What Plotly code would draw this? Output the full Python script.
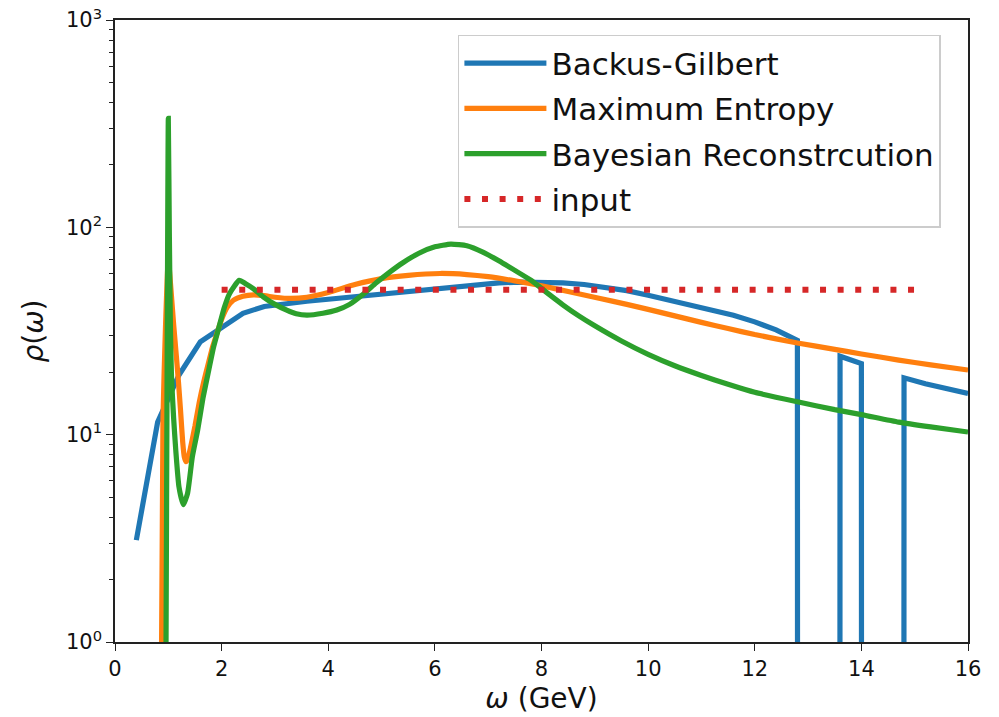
import numpy as np
import plotly.graph_objects as go

# ---------------- data ----------------
bg_x = [0.4, 0.8, 1.2, 1.6, 2.0, 2.4, 2.8, 3.2, 3.6, 4.0, 4.4, 4.8, 5.2, 5.6, 6.0,
        6.4, 6.8, 7.2, 7.6, 8.0, 8.4, 8.8, 9.2, 9.6, 10.0, 10.4, 10.8, 11.2, 11.6,
        12.0, 12.4, 12.8, 13.2, 13.6, 14.0, 14.4, 14.8, 15.2, 15.6, 16.0]
bg_y = [3.1, 11.5, 19.4, 28.0, 32.8, 38.5, 41.5, 43.0, 44.0, 45.0, 46.0, 47.3, 48.5,
        49.5, 50.5, 51.8, 53.0, 54.0, 54.4, 54.3, 54.0, 53.0, 51.5, 49.5, 47.0, 44.5,
        42.3, 40.0, 37.7, 35.0, 32.0, 28.5, -5.0, 23.9, 22.0, -3.0, 18.8, 17.6, 16.6, 15.8]

me_x = [0.87, 0.9, 0.95, 1.0, 1.05, 1.1, 1.15, 1.19, 1.23, 1.27, 1.3, 1.33, 1.37, 1.41,
        1.5, 1.58, 1.66, 1.75, 1.83, 1.91, 2.0, 2.1, 2.22, 2.4, 2.6, 2.8, 3.0, 3.3, 3.6,
        4.0, 4.5, 5.0, 5.5, 6.1, 6.6, 7.0, 7.5, 8.0, 8.5, 9.1, 9.6, 10.0, 10.5, 11.0,
        11.5, 12.0, 12.8, 13.5, 14.0, 14.7, 15.3, 16.0]
me_y = [0.7, 12.0, 35.0, 70.0, 50.0, 34.0, 24.0, 18.0, 13.0, 9.2, 7.8, 7.4, 7.7, 8.5,
        11.0, 14.3, 17.8, 22.0, 26.5, 30.7, 36.0, 41.0, 44.5, 46.5, 47.2, 46.8, 46.0,
        45.4, 46.0, 48.5, 53.0, 56.6, 58.7, 59.9, 59.2, 57.8, 55.2, 52.3, 49.0, 45.4,
        42.5, 40.2, 37.4, 34.8, 32.5, 30.4, 27.7, 25.8, 24.5, 22.9, 21.7, 20.5]

br_x = [0.955, 0.98, 1.0, 1.02, 1.04, 1.06, 1.1, 1.14, 1.2, 1.28, 1.36, 1.45, 1.55,
        1.65, 1.75, 1.85, 1.95, 2.05, 2.15, 2.33, 2.45, 2.6, 2.78, 3.0, 3.22, 3.4, 3.6,
        3.9, 4.16, 4.4, 4.66, 4.9, 5.16, 5.4, 5.7, 6.0, 6.3, 6.6, 6.9, 7.2, 7.5, 7.8,
        8.1, 8.4, 8.7, 9.0, 9.5, 10.0, 10.5, 11.0, 11.5, 12.0, 12.8, 13.5, 14.0, 14.7,
        15.3, 16.0]
br_y = [0.7, 30.0, 335.0, 90.0, 32.0, 19.0, 12.0, 8.4, 5.6, 4.6, 5.2, 7.8, 10.5, 15.0,
        20.0, 26.5, 33.0, 41.0, 48.0, 55.5, 53.5, 50.5, 46.2, 42.5, 39.9, 38.3, 37.7,
        38.5, 39.9, 42.5, 47.7, 54.0, 61.0, 67.5, 75.0, 80.5, 83.0, 81.5, 76.0, 69.0,
        62.0, 55.6, 48.4, 42.3, 37.4, 33.5, 28.3, 24.4, 21.5, 19.3, 17.5, 16.0, 14.4,
        13.2, 12.5, 11.5, 10.9, 10.3]

in_x = [2.0, 15.0]
in_y = [50.0, 50.0]

y_tick_vals = [1, 10, 100, 1000]
y_tick_text = ["10<sup>0</sup>", "10<sup>1</sup>", "10<sup>2</sup>", "10<sup>3</sup>"]
x_tick_vals = [0, 2, 4, 6, 8, 10, 12, 14, 16]

# log axis: clip non-positive values far below the axis (like matplotlib's clip)
def clip_log(v):
    a = np.asarray(v, dtype=float)
    return np.where(a > 0, a, 1e-300)

minor_vals = [m * 10 ** e for e in range(0, 3) for m in range(2, 10)]

BLUE, ORANGE, GREEN, RED = "#1f77b4", "#ff7f0e", "#2ca02c", "#d62728"
LW = 5.2

fig = go.Figure()
fig.add_trace(go.Scatter(x=bg_x, y=clip_log(bg_y), mode="lines", name="Backus-Gilbert",
                         line=dict(color=BLUE, width=LW), legendgroup="a"))
fig.add_trace(go.Scatter(x=me_x, y=clip_log(me_y), mode="lines", name="Maximum Entropy",
                         line=dict(color=ORANGE, width=LW, shape="spline", smoothing=0.5),
                         legendgroup="b"))
fig.add_trace(go.Scatter(x=br_x, y=clip_log(br_y), mode="lines", name="Bayesian Reconstrcution",
                         line=dict(color=GREEN, width=LW, shape="spline", smoothing=0.5),
                         legendgroup="c"))
fig.add_trace(go.Scatter(x=in_x, y=in_y, mode="lines", name="input",
                         line=dict(color=RED, width=6, dash="6px,11.6px"),
                         legendgroup="d"))

axis_common = dict(showline=True, linecolor="#222", linewidth=1.6, mirror=True,
                   ticks="outside", ticklen=7, tickwidth=1.4, tickcolor="#222",
                   showgrid=False, zeroline=False, automargin=False,
                   tickfont=dict(family="DejaVu Sans", size=21, color="#111"))

fig.update_layout(
    width=999, height=717,
    margin=dict(l=115, r=31, t=20, b=75),
    paper_bgcolor="white", plot_bgcolor="white",
    font=dict(family="DejaVu Sans", color="#111"),
    xaxis=dict(range=[0, 16], tickvals=x_tick_vals,
               title=dict(text="<i>ω</i> (GeV)", font=dict(size=28), standoff=8),
               **axis_common),
    yaxis=dict(type="log", range=[0, 3], tickvals=y_tick_vals, ticktext=y_tick_text,
               title=dict(text="<i>ρ</i>(<i>ω</i>)", font=dict(size=28), standoff=14),
               minor=dict(tickvals=minor_vals, ticks="outside", ticklen=4,
                          tickwidth=1.1, tickcolor="#222", showgrid=False),
               **axis_common),
    legend=dict(x=0.402, y=0.976, xanchor="left", yanchor="top",
                bgcolor="rgba(255,255,255,0.8)", bordercolor="#cccccc", borderwidth=1.5,
                font=dict(family="DejaVu Sans", size=31, color="#111"),
                tracegroupgap=2, itemwidth=82),
    showlegend=True,
)

fig.write_html("out.html")
